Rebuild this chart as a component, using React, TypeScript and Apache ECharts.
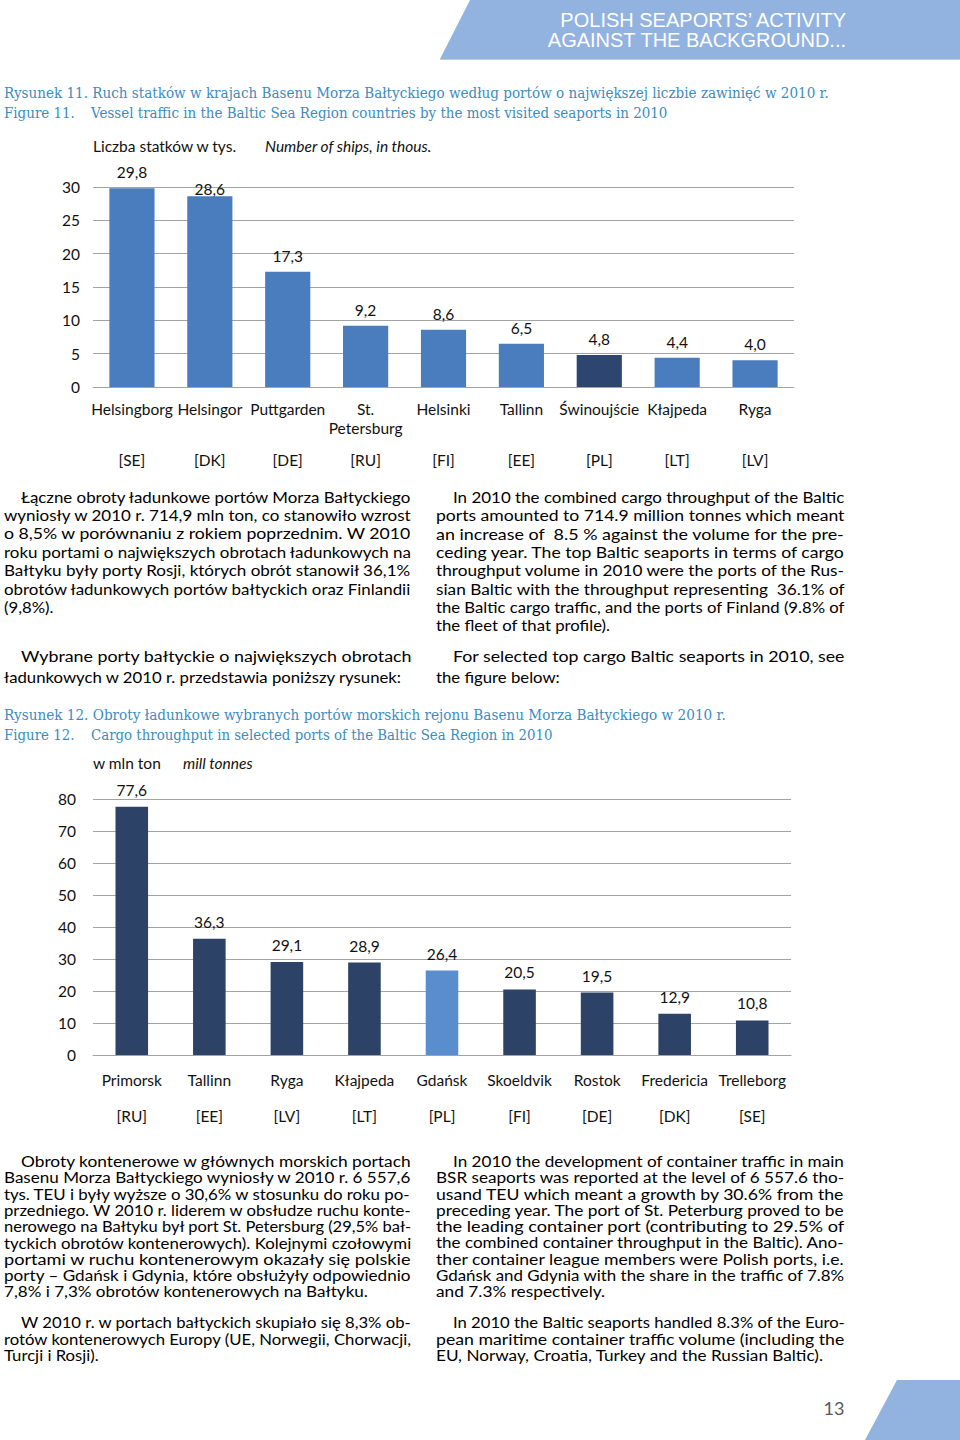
import React, { useEffect, useRef } from "react";
import * as echarts from "echarts";

// ---------- data ----------
const ports11 = ["Helsingborg", "Helsingor", "Puttgarden", "St.\nPetersburg", "Helsinki", "Tallinn", "Świnoujście", "Kłajpeda", "Ryga"];
const countries11 = ["[SE]", "[DK]", "[DE]", "[RU]", "[FI]", "[EE]", "[PL]", "[LT]", "[LV]"];
const ships11 = [29.8, 28.6, 17.3, 9.2, 8.6, 6.5, 4.8, 4.4, 4.0];
const highlight11 = "Świnoujście";

const ports12 = ["Primorsk", "Tallinn", "Ryga", "Kłajpeda", "Gdańsk", "Skoeldvik", "Rostok", "Fredericia", "Trelleborg"];
const countries12 = ["[RU]", "[EE]", "[LV]", "[LT]", "[PL]", "[FI]", "[DE]", "[DK]", "[SE]"];
const cargo12 = [77.6, 36.3, 29.1, 28.9, 26.4, 20.5, 19.5, 12.9, 10.8];
const highlight12 = "Gdańsk";

const header = ["POLISH SEAPORTS’ ACTIVITY", "AGAINST THE BACKGROUND..."];
const caption11pl = "Rysunek 11. Ruch statków w krajach Basenu Morza Bałtyckiego według portów o największej liczbie zawinięć w 2010 r.";
const caption11en = ["Figure 11.", "Vessel traffic in the Baltic Sea Region countries by the most visited seaports in 2010"];
const caption12pl = "Rysunek 12. Obroty ładunkowe wybranych portów morskich rejonu Basenu Morza Bałtyckiego w 2010 r.";
const caption12en = ["Figure 12.", "Cargo throughput in selected ports of the Baltic Sea Region in 2010"];
const unit11 = ["Liczba statków w tys.", "Number of ships, in thous."];
const unit12 = ["w mln ton", "mill tonnes"];

const paraPl1 = [
  "Łączne obroty ładunkowe portów Morza Bałtyckiego",
  "wyniosły w 2010 r. 714,9 mln ton, co stanowiło wzrost",
  "o 8,5% w porównaniu z rokiem poprzednim. W 2010",
  "roku portami o największych obrotach ładunkowych na",
  "Bałtyku były porty Rosji, których obrót stanowił 36,1%",
  "obrotów ładunkowych portów bałtyckich oraz Finlandii",
  "(9,8%).",
];
const paraPl2 = [
  "Wybrane porty bałtyckie o największych obrotach",
  "ładunkowych w 2010 r. przedstawia poniższy rysunek:",
];
const paraEn1 = [
  "In 2010 the combined cargo throughput of the Baltic",
  "ports amounted to 714.9 million tonnes which meant",
  "an increase of  8.5 % against the volume for the pre-",
  "ceding year. The top Baltic seaports in terms of cargo",
  "throughput volume in 2010 were the ports of the Rus-",
  "sian Baltic with the throughput representing  36.1% of",
  "the Baltic cargo traffic, and the ports of Finland (9.8% of",
  "the fleet of that profile).",
];
const paraEn2 = [
  "For selected top cargo Baltic seaports in 2010, see",
  "the figure below:",
];
const paraPl3 = [
  "Obroty kontenerowe w głównych morskich portach",
  "Basenu Morza Bałtyckiego wyniosły w 2010 r. 6 557,6",
  "tys. TEU i były wyższe o 30,6% w stosunku do roku po-",
  "przedniego. W 2010 r. liderem w obsłudze ruchu konte-",
  "nerowego na Bałtyku był port St. Petersburg (29,5% bał-",
  "tyckich obrotów kontenerowych). Kolejnymi czołowymi",
  "portami w ruchu kontenerowym okazały się polskie",
  "porty – Gdańsk i Gdynia, które obsłużyły odpowiednio",
  "7,8% i 7,3% obrotów kontenerowych na Bałtyku.",
];
const paraPl4 = [
  "W 2010 r. w portach bałtyckich skupiało się 8,3% ob-",
  "rotów kontenerowych Europy (UE, Norwegii, Chorwacji,",
  "Turcji i Rosji).",
];
const paraEn3 = [
  "In 2010 the development of container traffic in main",
  "BSR seaports was reported at the level of 6 557.6 tho-",
  "usand TEU which meant a growth by 30.6% from the",
  "preceding year. The port of St. Peterburg proved to be",
  "the leading container port (contributing to 29.5% of",
  "the combined container throughput in the Baltic). Ano-",
  "ther container league members were Polish ports, i.e.",
  "Gdańsk and Gdynia with the share in the traffic of 7.8%",
  "and 7.3% respectively.",
];
const paraEn4 = [
  "In 2010 the Baltic seaports handled 8.3% of the Euro-",
  "pean maritime container traffic volume (including the",
  "EU, Norway, Croatia, Turkey and the Russian Baltic).",
];
const pageNumber = "13";

// ---------- styles ----------
const SANS = "Lato";
const SERIF = "DejaVu Serif";
const CAPTION = "#3a8cbf";
const TXT = "#111111";
const GRID = "#a3a3a3";
const BAR11 = "#4a7dbd";
const BAR11_HI = "#2c4670";
const BAR12 = "#2c4266";
const BAR12_HI = "#5a8dcd";
const BANNER = "#92b2df";

const fmt = (v: number) => v.toFixed(1).replace(".", ",");

export default function App() {
  const ref = useRef<HTMLDivElement>(null);

  useEffect(() => {
    const el = ref.current!;
    const chart = echarts.init(el, null, { renderer: "svg", width: 960, height: 1440 });

    const cv = document.createElement("canvas");
    const ctx = cv.getContext("2d")!;
    const measure = (t: string, size: number, family: string, italic = false) => {
      ctx.font = `${italic ? "italic " : ""}${size}px "${family}"`;
      return ctx.measureText(t).width;
    };

    const textEl = (
      text: string,
      x: number,
      y: number,
      o: { size: number; family: string; color: string; italic?: boolean; align?: string; scaleX?: number }
    ) => ({
      type: "text",
      x,
      y,
      scaleX: o.scaleX ?? 1,
      silent: true,
      style: {
        text,
        fill: o.color,
        fontSize: o.size,
        fontFamily: o.family,
        fontStyle: o.italic ? "italic" : "normal",
        textAlign: o.align ?? "left",
        textVerticalAlign: "middle",
        align: o.align ?? "left",
        verticalAlign: "middle",
      },
    });

    const clamp = (s: number) => Math.max(0.8, Math.min(1.3, s));

    const paragraph = (lines: string[], left: number, indent: number, right: number, y0: number, lh: number, size: number) => {
      const scales: number[] = [];
      lines.forEach((ln, i) => {
        if (i < lines.length - 1) {
          const x = i === 0 ? left + indent : left;
          scales.push(clamp((right - x) / measure(ln, size, SANS)));
        }
      });
      const mean = scales.length ? scales.reduce((a, b) => a + b, 0) / scales.length : 1;
      return lines.map((ln, i) =>
        textEl(ln, i === 0 ? left + indent : left, y0 + i * lh, {
          size,
          family: SANS,
          color: "#000",
          scaleX: i < lines.length - 1 ? scales[i] : Math.min(mean, 1.08),
        })
      );
    };

    const capSize = 14.5;
    const captionLine = (t: string, x: number, endX: number, y: number) => {
      const s = clamp((endX - x) / measure(t, capSize, SERIF));
      return { s, el: textEl(t, x, y, { size: capSize, family: SERIF, color: CAPTION, scaleX: s }) };
    };
    const c11 = captionLine(caption11pl, 4, 830, 93);
    const c11b = captionLine(caption11en[1], 91, 668, 113);
    const c12 = captionLine(caption12pl, 4, 727, 715);
    const c12b = captionLine(caption12en[1], 91, 553, 735);

    const graphics: any[] = [
      { type: "polygon", silent: true, shape: { points: [[470, 0], [960, 0], [960, 59], [440, 59]] }, style: { fill: BANNER } },
      { type: "line", silent: true, shape: { x1: 440, y1: 59.5, x2: 960, y2: 59.5 }, style: { stroke: "#c5cbd3", lineWidth: 1 } },
      textEl(header[0], 846, 20, { size: 20, family: "Liberation Sans", color: "#ffffff", align: "right" }),
      textEl(header[1], 846, 40, { size: 20, family: "Liberation Sans", color: "#ffffff", align: "right" }),
      c11.el,
      textEl(caption11en[0], 4, 113, { size: capSize, family: SERIF, color: CAPTION, scaleX: c11b.s }),
      c11b.el,
      c12.el,
      textEl(caption12en[0], 4, 735, { size: capSize, family: SERIF, color: CAPTION, scaleX: c12b.s }),
      c12b.el,
      textEl(unit11[0], 93, 146, { size: 15.5, family: SANS, color: TXT }),
      textEl(unit11[1], 265, 146, { size: 15.5, family: SANS, color: TXT, italic: true }),
      textEl(unit12[0], 93, 763, { size: 15.5, family: SANS, color: TXT }),
      textEl(unit12[1], 183, 763, { size: 15.5, family: SANS, color: TXT, italic: true }),
      ...paragraph(paraPl1, 4, 17, 412, 497, 18.3, 15.5),
      ...paragraph(paraPl2, 4, 17, 412, 656, 20.5, 15.5),
      ...paragraph(paraEn1, 436, 17, 845, 497, 18.3, 15.5),
      ...paragraph(paraEn2, 436, 17, 845, 656, 20.5, 15.5),
      ...paragraph(paraPl3, 4, 17, 412, 1161, 16.25, 16),
      ...paragraph(paraPl4, 4, 17, 412, 1322, 16.5, 16),
      ...paragraph(paraEn3, 436, 17, 845, 1161, 16.25, 16),
      ...paragraph(paraEn4, 436, 17, 845, 1322, 16.5, 16),
      { type: "polygon", silent: true, shape: { points: [[897, 1380], [960, 1380], [960, 1440], [865, 1440]] }, style: { fill: BANNER } },
      textEl(pageNumber, 834, 1408, { size: 18, family: SANS, color: "#595959", align: "center" }),
    ];

    const axisFont = { fontSize: 15.5, fontFamily: SANS, color: TXT };

    const catAxis = (gridIndex: number, data: string[], margin: number, offset = 0, line = true) => ({
      type: "category",
      gridIndex,
      position: "bottom",
      offset,
      data,
      axisLine: { show: line, lineStyle: { color: GRID, width: 1 } },
      axisTick: { show: false },
      splitLine: { show: false },
      axisLabel: { ...axisFont, interval: 0, margin, lineHeight: 19 },
    });

    const valAxis = (gridIndex: number, max: number, interval: number, margin: number) => ({
      type: "value",
      gridIndex,
      min: 0,
      max,
      interval,
      axisLine: { show: false },
      axisTick: { show: false },
      splitLine: { show: true, lineStyle: { color: GRID, width: 1 } },
      axisLabel: { ...axisFont, margin },
    });

    const option: any = {
      animation: false,
      backgroundColor: "#ffffff",
      grid: [
        { left: 93, top: 187, width: 701, height: 200 },
        { left: 93, top: 799, width: 698, height: 256 },
      ],
      xAxis: [
        catAxis(0, ports11, 12),
        catAxis(0, countries11, 12, 51, false),
        catAxis(1, ports12, 15),
        catAxis(1, countries12, 15, 36, false),
      ],
      yAxis: [valAxis(0, 30, 5, 13), valAxis(1, 80, 10, 17)],
      series: [
        {
          type: "bar",
          xAxisIndex: 0,
          yAxisIndex: 0,
          barCategoryGap: "42%",
          data: ships11.map((v, i) => ({
            value: v,
            itemStyle: { color: ports11[i] === highlight11 ? BAR11_HI : BAR11 },
            ...(i === 1 ? { label: { offset: [0, 9] } } : {}),
          })),
          label: { show: true, position: "top", distance: 8, ...axisFont, formatter: (p: any) => fmt(p.value) },
        },
        {
          type: "bar",
          xAxisIndex: 2,
          yAxisIndex: 1,
          barCategoryGap: "58%",
          data: cargo12.map((v, i) => ({
            value: v,
            itemStyle: { color: ports12[i] === highlight12 ? BAR12_HI : BAR12 },
          })),
          label: { show: true, position: "top", distance: 9, ...axisFont, formatter: (p: any) => fmt(p.value) },
        },
      ],
      graphic: { elements: graphics },
    };

    chart.setOption(option);
    return () => chart.dispose();
  }, []);

  return (
    <div
      ref={ref}
      style={{ position: "absolute", left: 0, top: 0, width: 960, height: 1440, background: "#ffffff" }}
    />
  );
}
